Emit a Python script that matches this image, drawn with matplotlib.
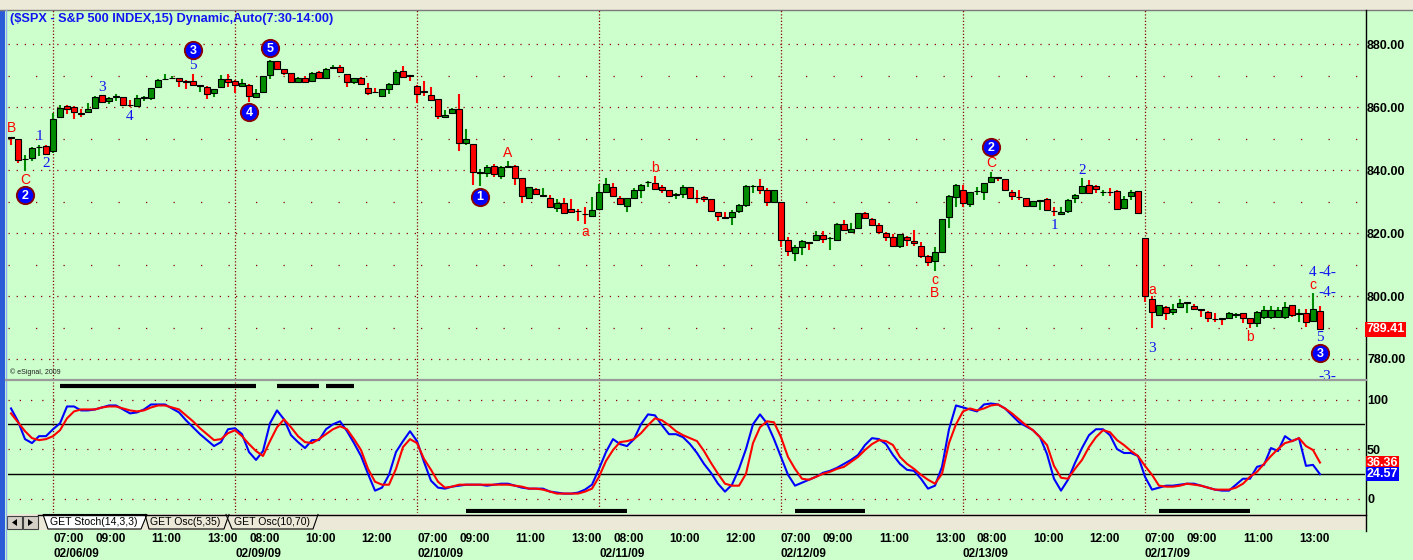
import matplotlib.pyplot as plt
from matplotlib.patches import Rectangle, Polygon

W, H = 1413, 560
BG = '#CCFFCC'
UP = '#008C00'
DOWN = '#FF0000'
GRID = '#8B0000'
BLUE = '#1414F0'

# ---- 15 minute bars, $SPX 02/05 (last 6 bars) .. 02/17/09 ----
bar_open = [
    850.2, 849.7, 843.4, 843.7, 847.3, 847.6, 846.1, 856.9, 860.3, 860.1,
    858.1, 858.3, 859.6, 863.7, 862.0, 863.2, 863.1, 860.5, 860.3, 862.9,
    862.9, 866.5, 868.8, 869.2, 869.1, 868.1, 868.4, 866.7, 866.5, 864.3,
    866.2, 868.8, 868.3, 866.7, 867.0, 863.1, 864.7, 870.2, 874.6, 872.1,
    870.7, 867.8, 869.1, 868.4, 871.2, 869.1, 872.5, 872.6, 870.4, 868.0,
    869.1, 865.9, 864.7, 863.5, 865.7, 867.3, 871.4, 869.9, 866.7, 864.8,
    863.8, 862.5, 856.7, 858.0, 859.3, 848.5, 848.1, 839.1, 839.2, 841.3,
    838.2, 841.0, 841.3, 837.4, 831.2, 834.0, 831.9, 831.2, 827.9, 829.4,
    827.5, 826.9, 826.0, 825.5, 827.5, 833.1, 834.5, 831.0, 828.7, 831.2,
    833.6, 836.2, 835.8, 834.5, 833.5, 832.2, 832.5, 834.5, 831.1, 831.5,
    830.7, 826.6, 824.8, 825.0, 827.1, 828.9, 834.9, 834.9, 833.5, 830.0,
    829.8, 817.8, 813.8, 815.7, 816.9, 817.8, 819.4, 818.4, 817.8, 823.0,
    820.3, 821.6, 826.5, 824.6, 822.7, 820.1, 818.6, 815.9, 818.8, 817.4,
    815.8, 812.7, 811.2, 814.1, 825.2, 831.5, 833.6, 829.3, 833.2, 832.9,
    836.3, 837.5, 837.1, 833.1, 831.4, 831.0, 828.6, 830.2, 830.8, 826.9,
    826.0, 827.0, 831.0, 832.6, 835.2, 834.9, 833.0, 832.9, 833.3, 827.8,
    831.7, 833.3, 818.3, 799.2, 794.0, 796.6, 795.0, 796.6, 797.8, 796.8,
    795.7, 795.0, 792.7, 792.8, 792.9, 794.0, 794.5, 792.9, 791.4, 793.4,
    793.4, 793.4, 793.4, 797.0, 794.4, 794.5, 792.1, 795.3,
]
bar_high = [
    850.4, 849.9, 844.8, 847.4, 847.9, 847.8, 858.0, 860.6, 860.6, 860.3,
    859.3, 861.2, 863.5, 863.8, 863.1, 864.1, 863.3, 862.2, 863.8, 863.5,
    866.1, 868.8, 870.5, 870.0, 869.2, 868.6, 870.5, 866.9, 866.7, 865.8,
    870.2, 870.5, 868.5, 868.8, 867.2, 865.7, 869.9, 874.9, 874.7, 872.2,
    870.8, 869.4, 869.8, 871.1, 871.5, 872.3, 873.4, 873.4, 870.6, 869.3,
    869.4, 867.7, 866.0, 865.8, 867.5, 871.7, 872.9, 870.1, 866.9, 868.3,
    866.2, 862.7, 859.0, 859.7, 864.1, 853.0, 848.3, 840.3, 841.6, 841.9,
    841.3, 842.9, 841.5, 837.5, 834.7, 834.3, 834.4, 832.1, 830.7, 831.0,
    830.9, 827.5, 828.4, 831.5, 835.5, 837.4, 836.0, 831.8, 831.2, 834.4,
    835.5, 836.6, 838.2, 835.2, 833.6, 832.6, 835.2, 834.7, 833.5, 831.8,
    830.9, 826.8, 826.6, 827.3, 829.1, 835.2, 835.2, 837.1, 834.4, 833.7,
    830.0, 818.6, 816.2, 817.7, 817.3, 820.7, 820.7, 818.8, 823.2, 824.1,
    823.3, 826.5, 826.6, 824.8, 823.2, 820.2, 819.8, 819.8, 819.0, 820.9,
    817.3, 812.9, 815.7, 824.5, 832.1, 835.4, 835.2, 833.1, 834.5, 836.0,
    839.5, 837.9, 837.3, 833.5, 833.6, 831.1, 830.3, 830.5, 831.0, 828.4,
    828.4, 830.7, 832.3, 837.4, 836.9, 835.1, 833.6, 834.2, 833.6, 831.6,
    833.8, 833.4, 818.5, 800.0, 797.3, 796.9, 797.5, 799.0, 798.1, 797.5,
    795.9, 795.1, 794.5, 792.9, 795.0, 794.5, 794.7, 793.0, 795.1, 796.8,
    796.8, 796.6, 798.0, 797.1, 795.9, 795.9, 800.8, 796.8,
]
bar_low = [
    847.9, 842.3, 839.8, 843.0, 844.4, 844.8, 845.5, 856.7, 857.8, 856.3,
    856.7, 858.2, 859.5, 861.4, 861.0, 862.0, 860.2, 859.9, 860.1, 862.0,
    862.2, 866.3, 868.7, 868.8, 866.5, 865.6, 866.7, 864.9, 862.4, 863.3,
    865.9, 866.2, 864.3, 866.5, 861.7, 863.0, 864.4, 868.9, 871.7, 870.3,
    867.5, 867.7, 867.5, 868.3, 868.9, 868.9, 872.4, 870.9, 866.2, 867.3,
    867.0, 863.8, 864.4, 863.1, 864.1, 867.1, 869.4, 868.3, 861.2, 863.5,
    862.0, 856.1, 856.5, 857.8, 846.1, 847.9, 835.2, 834.9, 837.9, 837.9,
    837.1, 840.6, 835.2, 829.6, 831.0, 832.0, 831.5, 828.3, 826.8, 826.0,
    826.3, 823.8, 822.9, 825.0, 827.3, 832.8, 831.5, 828.9, 826.8, 831.0,
    831.2, 834.7, 834.0, 832.8, 831.8, 830.7, 831.1, 830.9, 829.4, 830.0,
    826.8, 823.9, 824.4, 822.4, 826.3, 828.1, 832.8, 832.5, 828.7, 829.4,
    815.4, 812.7, 811.2, 813.0, 814.7, 817.7, 816.7, 814.7, 817.6, 820.8,
    820.2, 821.5, 824.6, 822.5, 819.8, 817.4, 815.6, 815.3, 815.8, 815.8,
    812.2, 809.5, 808.0, 813.9, 821.6, 828.3, 828.4, 828.3, 832.1, 830.5,
    836.2, 836.6, 833.3, 830.5, 830.5, 828.4, 828.5, 827.3, 827.2, 825.3,
    825.8, 826.5, 829.6, 832.5, 832.5, 832.6, 831.6, 831.6, 827.3, 827.6,
    830.5, 826.2, 798.2, 789.9, 793.7, 792.4, 794.0, 796.4, 794.7, 795.6,
    793.4, 791.6, 791.9, 790.8, 792.8, 792.9, 791.4, 789.9, 790.3, 792.7,
    792.7, 793.2, 792.7, 793.4, 791.6, 790.3, 791.9, 789.3,
]
bar_close = [
    850.0, 843.2, 843.6, 847.1, 847.5, 845.1, 856.1, 859.7, 859.5, 858.5,
    857.8, 859.3, 863.1, 861.7, 863.0, 863.4, 860.5, 860.3, 862.8, 863.1,
    865.9, 868.6, 869.0, 869.4, 868.4, 867.9, 867.0, 866.9, 864.0, 865.6,
    868.8, 868.0, 867.0, 867.7, 863.5, 864.6, 869.8, 874.6, 872.1, 870.9,
    867.8, 869.1, 867.8, 870.9, 869.1, 872.1, 872.7, 871.0, 868.0, 869.1,
    867.3, 864.6, 864.5, 865.6, 867.2, 871.2, 869.6, 869.7, 864.0, 864.6,
    862.2, 857.1, 857.5, 859.4, 848.7, 849.7, 839.5, 839.3, 840.8, 838.6,
    841.1, 841.2, 837.5, 831.9, 834.5, 832.3, 832.1, 828.4, 829.4, 826.3,
    826.6, 826.7, 825.8, 827.3, 832.9, 835.4, 831.8, 829.1, 831.0, 833.7,
    835.3, 836.4, 834.1, 833.6, 831.9, 832.4, 834.5, 831.0, 830.9, 830.9,
    827.1, 825.3, 824.6, 826.6, 828.9, 834.9, 835.1, 833.7, 830.0, 833.5,
    817.8, 814.4, 815.5, 817.5, 816.7, 819.4, 818.1, 818.6, 822.8, 820.9,
    821.4, 826.2, 824.8, 822.7, 820.3, 818.8, 815.9, 819.6, 817.8, 816.7,
    812.7, 810.9, 814.1, 824.3, 831.7, 835.2, 829.6, 832.9, 833.4, 835.8,
    837.7, 837.3, 833.5, 831.8, 831.2, 828.6, 830.2, 830.4, 827.3, 826.7,
    826.8, 830.5, 832.1, 834.9, 832.6, 833.9, 833.2, 832.7, 827.6, 830.8,
    833.1, 826.3, 800.0, 795.0, 797.1, 794.5, 795.8, 797.9, 798.0, 795.8,
    795.5, 792.9, 792.5, 792.6, 794.5, 794.2, 792.9, 791.4, 794.8, 795.6,
    795.4, 795.6, 796.4, 794.0, 794.6, 791.7, 795.8, 789.41,
]

# GET Stoch(14,3,3): %K (blue) and %D (red)
stoch_k = [
    91, 78, 60, 56, 63, 63, 70, 76, 93, 93,
    89, 89, 90, 92, 94, 94, 90, 86, 87, 90,
    95, 95, 95, 91, 87, 79, 72, 65, 59, 53,
    57, 70, 71, 65, 47, 39, 48, 76, 89, 80,
    64, 57, 51, 59, 59, 70, 75, 78, 68, 56,
    43, 25, 8, 11, 24, 47, 58, 68, 58, 37,
    18, 11, 10, 12, 13, 14, 14, 14, 13, 14,
    15, 15, 13, 11, 10, 10, 10, 7, 6, 5,
    5, 6, 9, 14, 30, 47, 60, 55, 53, 60,
    75, 85, 84, 74, 65, 65, 62, 55, 46, 35,
    26, 15, 7, 14, 30, 50, 75, 85, 76, 60,
    42, 24, 13, 16, 19, 22, 26, 28, 31, 35,
    39, 44, 54, 61, 60, 55, 44, 35, 29, 28,
    20, 10, 13, 32, 70, 94, 92, 90, 88, 95,
    96, 95, 91, 84, 77, 73, 69, 62, 45, 20,
    8, 19, 36, 51, 64, 70, 70, 64, 50, 46,
    46, 43, 22, 9, 11, 13, 13, 14, 15, 15,
    13, 11, 9, 8, 8, 14, 20, 20, 32, 34,
    51, 48, 63, 58, 61, 33, 34, 24.57,
]
stoch_d = [
    86, 77, 68, 61, 59, 60, 63, 69, 81, 88,
    90, 90, 90, 92, 93, 93, 91, 89, 88, 89,
    92, 94, 94, 92, 90, 84, 78, 71, 65, 59,
    60, 66, 69, 63, 55, 48, 43, 58, 72, 80,
    72, 63, 57, 56, 60, 65, 70, 73, 70, 60,
    49, 30, 17, 14, 14, 30, 52, 60, 56, 40,
    29, 17, 11, 12, 14, 14, 14, 14, 14, 14,
    14, 14, 13, 12, 10, 10, 9, 7, 5, 5,
    5, 5, 7, 10, 22, 38, 49, 57, 58, 60,
    66, 74, 81, 79, 74, 68, 64, 61, 58, 48,
    36, 25, 15, 13, 13, 25, 56, 72, 78, 77,
    62, 42, 30, 20, 19, 22, 25, 27, 30, 32,
    37, 42, 49, 55, 59, 58, 54, 42, 35, 30,
    24, 19, 15, 25, 56, 75, 88, 91, 89, 91,
    94, 95, 91, 86, 80, 74, 69, 62, 54, 33,
    21, 20, 30, 39, 52, 62, 69, 67, 59, 54,
    48, 43, 33, 24, 13, 12, 12, 13, 15, 14,
    13, 11, 9, 9, 9, 11, 15, 22, 27, 35,
    43, 50, 56, 58, 61, 53, 49, 36.36,
]

# black signal bars in the oscillator pane (bar index ranges)
top_mark_start = [7, 38, 45]
top_mark_end = [35, 44, 49]
bottom_mark_start = [65, 112, 164]
bottom_mark_end = [88, 122, 177]

# time axis
day_bars = [6, 32, 58, 84, 110, 136, 162]
day_labels = ['02/06/09', '02/09/09', '02/10/09', '02/11/09', '02/12/09', '02/13/09', '02/17/09']
time_bars = [6, 12, 20, 28, 34, 42, 50, 58, 64, 72, 80, 86, 94, 102,
             110, 116, 124, 132, 138, 146, 154, 162, 168, 176, 184]
time_labels = ['07:00', '09:00', '11:00', '13:00', '08:00', '10:00', '12:00',
               '07:00', '09:00', '11:00', '13:00', '08:00', '10:00', '12:00',
               '07:00', '09:00', '11:00', '13:00', '08:00', '10:00', '12:00',
               '07:00', '09:00', '11:00', '13:00']
price_ticks = [780, 800, 820, 840, 860, 880]
osc_ticks = [0, 50, 100]

# Elliott wave labels
wave_bar = [0, 2, 4, 5, 13, 17, 26, 71, 82, 92, 132, 132, 140, 149, 153, 163, 163, 177, 186, 186, 187]
wave_price = [853.3, 836.8, 850.5, 842.2, 866.3, 857.1, 873.3, 845.4, 820.3, 840.6, 805.1, 801.0,
              842.2, 822.5, 839.7, 801.9, 783.2, 787.0, 807.6, 803.5, 786.7]
wave_text = ['B', 'C', '1', '2', '3', '4', '5', 'A', 'a', 'b', 'c', 'B', 'C', '1', '2', 'a', '3', 'b', '4', 'c', '5']
wave_is_red = [1, 1, 0, 0, 0, 0, 0, 1, 1, 1, 1, 1, 1, 0, 0, 1, 0, 1, 0, 1, 0]
circle_bar = [2, 26, 34, 37, 67, 140, 187]
circle_price = [832.1, 878.1, 858.4, 878.6, 831.5, 847.3, 781.9]
circle_text = ['2', '3', '4', '5', '1', '2', '3']
side_bar = [188.1, 188.1, 188.1]
side_price = [807.6, 801.0, 774.4]
side_text = ['-4-', '-4-', '-3-']

n = len(bar_close)
bars = list(range(n))

fig = plt.figure(figsize=(W / 100, H / 100), dpi=100)
fig.patch.set_facecolor(BG)

# window chrome in pixel coordinates
bg = fig.add_axes([0, 0, 1, 1], zorder=0)
bg.set_xlim(0, W)
bg.set_ylim(H, 0)
bg.axis('off')
bg.add_patch(Rectangle((0, 0), W, 10, fc='#ECE9D8', ec='none'))
bg.plot([0, W], [10, 10], color='#7A7A7A', lw=1)
bg.add_patch(Rectangle((0, 10), 5, H, fc='#2B5BD6', ec='none'))
bg.plot([5.5, 5.5], [10, H], color='#8FB0F0', lw=1)
bg.plot([1366, 1366], [10, 531], color='black', lw=1)
bg.plot([6, 1366], [380, 380], color='#9A9A9A', lw=1.6)
# tab strip
bg.add_patch(Rectangle((6, 514), 1360, 16, fc='#ECE9D8', ec='none'))
bg.plot([38, 1366], [514.5, 514.5], color='black', lw=1)
for x0 in (7, 23):
    bg.add_patch(Rectangle((x0, 516), 15, 13, fc='#D4D0C8', ec='#404040', lw=0.8))
bg.add_patch(Polygon([(17, 519), (17, 526), (12, 522.5)], closed=True, fc='black'))
bg.add_patch(Polygon([(28, 519), (28, 526), (33, 522.5)], closed=True, fc='black'))
bg.add_patch(Polygon([(43, 514.5), (48, 529), (141, 529), (147, 514.5)], closed=True,
                     fc='white', ec='black', lw=0.8))
bg.plot([145, 149, 224, 229], [514.5, 529, 529, 514.5], color='black', lw=0.8)
bg.plot([226, 232, 313, 318], [514.5, 529, 529, 514.5], color='black', lw=0.8)
tab_font = dict(fontsize=7.6, family='Liberation Sans', va='center', ha='left')
bg.text(50, 522, 'GET Stoch(14,3,3)', **tab_font)
bg.text(150, 522, 'GET Osc(5,35)', **tab_font)
bg.text(234, 522, 'GET Osc(10,70)', **tab_font)

# ---- price pane ----
ax = fig.add_axes([8 / W, 1 - 379 / H, 1357 / W, 369 / H], zorder=1)
ax.set_facecolor('none')
ax.set_xlim(-0.43, 193.43)
ax.set_ylim(773.65, 890.8)
for s in ax.spines.values():
    s.set_visible(False)
ax.set_xticks([])
ax.yaxis.tick_right()
ax.set_yticks(price_ticks, [f'{v:.2f}' for v in price_ticks])
ax.tick_params(axis='y', length=0, pad=1.5, labelsize=9)
for lab in ax.get_yticklabels():
    lab.set_fontweight('bold')
    lab.set_family('Liberation Sans')

for p in price_ticks:
    ax.axhline(p, color=GRID, lw=0.9, ls=(0, (1, 5.5)), zorder=1)
for p in [790, 810, 830, 850, 870]:
    ax.axhline(p, color=GRID, lw=0.9, ls=(0, (1, 21)), zorder=1)
for b in day_bars:
    ax.axvline(b, color=GRID, lw=0.9, ls=(0, (1, 1.6)), zorder=1)

up = [c >= o for o, c in zip(bar_open, bar_close)]
colors = [UP if u else DOWN for u in up]
ax.vlines(bars, bar_low, bar_high, colors=colors, lw=1.5, zorder=2)
heights = [c - o if abs(c - o) > 0.25 else 0.15 for o, c in zip(bar_open, bar_close)]
ax.bar(bars, heights, bottom=bar_open, width=0.72, color=colors,
       edgecolor='black', linewidth=0.8, zorder=3)

for b, p, t, r in zip(wave_bar, wave_price, wave_text, wave_is_red):
    if r:
        ax.text(b, p, t, color=DOWN, fontsize=10, ha='center', va='center',
                family='Liberation Sans', zorder=5)
    else:
        ax.text(b, p, t, color=BLUE, fontsize=11, ha='center', va='center',
                family='Liberation Serif', zorder=5)
ax.plot(circle_bar, circle_price, 'o', ms=12.5, mfc='#0000FF', mec='#8B0000', mew=1.3, zorder=6)
for b, p, t in zip(circle_bar, circle_price, circle_text):
    ax.text(b, p - 0.2, t, color='white', fontsize=9, fontweight='bold', ha='center', va='center',
            family='Liberation Sans', zorder=7)
for b, p, t in zip(side_bar, side_price, side_text):
    ax.text(b, p, t, color=BLUE, fontsize=11, ha='center', va='center',
            family='Liberation Serif', zorder=5, clip_on=True)

ax.text(1.0012, bar_close[-1], f'{bar_close[-1]:.2f}', transform=ax.get_yaxis_transform(),
        color='white', fontsize=9, fontweight='bold', family='Liberation Sans', va='center', ha='left',
        bbox=dict(boxstyle='square,pad=0.12', fc='#FF0000', ec='none'), zorder=8, clip_on=False)

fig.text(10 / W, 1 - 19 / H, '($SPX - S&P 500 INDEX,15) Dynamic,Auto(7:30-14:00)',
         color=BLUE, fontsize=9.2, fontweight='bold', family='Liberation Sans', va='center', ha='left')
ax.text(0.0015, 0.018, '\u00a9 eSignal, 2009', transform=ax.transAxes, fontsize=5,
        family='Liberation Sans', color='#202020', va='center', ha='left')

# ---- stochastic pane ----
ax2 = fig.add_axes([8 / W, 1 - 513 / H, 1357 / W, 131 / H], zorder=1)
ax2.set_facecolor('none')
ax2.set_xlim(-0.43, 193.43)
ax2.set_ylim(-14.6, 117.7)
for s in ax2.spines.values():
    s.set_visible(False)
ax2.yaxis.tick_right()
ax2.set_yticks(osc_ticks, [str(v) for v in osc_ticks])
ax2.tick_params(axis='y', length=0, pad=1.5, labelsize=9)
for lab in ax2.get_yticklabels():
    lab.set_fontweight('bold')
    lab.set_family('Liberation Sans')

for v in osc_ticks:
    ax2.axhline(v, color=GRID, lw=0.9, ls=(0, (1, 8)), zorder=1)
for v in (25, 75):
    ax2.axhline(v, color='black', lw=1, zorder=1)
for b in day_bars:
    ax2.axvline(b, color=GRID, lw=0.9, ls=(0, (1, 1.6)), zorder=1)

ax2.plot(bars, stoch_k, color='#0000FF', lw=1.5, zorder=3)
ax2.plot(bars, stoch_d, color='#FF0000', lw=1.5, zorder=4)
ax2.hlines([113.6] * 3, top_mark_start, top_mark_end, color='black', lw=3, zorder=5)
ax2.hlines([-12.6] * 3, bottom_mark_start, bottom_mark_end, color='black', lw=3, zorder=5)

for val, fc in ((stoch_d[-1], '#FF0000'), (stoch_k[-1], '#0000FF')):
    ax2.text(1.0012, val, f'{val:.2f}', transform=ax2.get_yaxis_transform(),
             color='white', fontsize=9, fontweight='bold', family='Liberation Sans',
             va='center', ha='left', bbox=dict(boxstyle='square,pad=0.08', fc=fc, ec='none'),
             zorder=8, clip_on=False)

ax2.xaxis.remove_overlapping_locs = False
ax2.set_xticks(time_bars, time_labels)
ax2.set_xticks(day_bars, day_labels, minor=True)
ax2.tick_params(axis='x', which='major', length=0, pad=14.5, labelsize=8.5)
ax2.tick_params(axis='x', which='minor', length=0, pad=25.3, labelsize=8.5)
for lab in ax2.get_xticklabels(which='both'):
    lab.set_ha('left')
    lab.set_fontweight('bold')
    lab.set_family('Liberation Sans')

fig.savefig('out.png', dpi=100, facecolor=BG)
